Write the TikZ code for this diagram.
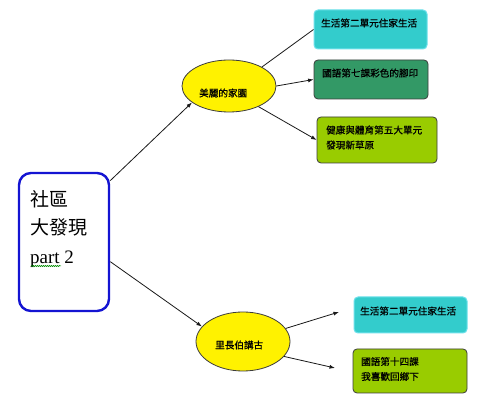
\documentclass[tikz,border=0pt]{standalone}
\usepackage{fontspec}
\setmainfont{Liberation Serif}
\newfontfamily\cjk{Noto Sans CJK TC}
\newfontfamily\cjkb[FakeBold=0.8]{Noto Sans CJK TC}
\usetikzlibrary{arrows.meta,shapes.geometric,decorations.pathmorphing}
\definecolor{cyanbox}{RGB}{51,204,204}
\definecolor{cyanedge}{RGB}{110,225,235}
\definecolor{seagreen}{RGB}{51,153,102}
\definecolor{limebox}{RGB}{153,204,0}
\definecolor{darkedge}{RGB}{60,60,60}
\definecolor{mainblue}{RGB}{20,20,210}
\tikzset{
  topicbox/.style={draw=darkedge, line width=0.8pt, rounded corners=4pt, rectangle, inner sep=0pt},
  cyanstyle/.style={topicbox, fill=cyanbox, draw=cyanedge, line width=1pt},
  greenstyle/.style={topicbox, fill=seagreen},
  limestyle/.style={topicbox, fill=limebox},
  yellowell/.style={ellipse, draw=darkedge, line width=0.8pt, fill=yellow, inner sep=0pt},
  boxtext/.style={anchor=west, inner sep=0pt, align=left, font=\cjkb\fontsize{9.6}{15}\selectfont},
  link/.style={draw=black!90, line width=0.8pt},
  arr/.style={link, -{Latex[length=5.5pt,width=4pt]}}
}
\begin{document}
\begin{tikzpicture}[x=1pt,y=-1pt]
\useasboundingbox[fill=white] (0,0) rectangle (480,406);
% main box
\node[draw=mainblue, line width=2.4pt, rounded corners=12pt, minimum width=90pt, minimum height=138pt, inner sep=0pt] (main) at (64,242) {};
\node[anchor=west, inner sep=0pt, align=left, font=\fontsize{19}{28.5}\selectfont] (maintext) at (30,229) {{\cjk 社區}\\{\cjk 大發現}\\part 2};
\draw[green!55!black, line width=0.5pt, decorate, decoration={snake, amplitude=0.7pt, segment length=2pt}] (31,266) -- (61,266);
% ellipses
\node[yellowell, minimum width=94pt, minimum height=52pt] (ell1) at (229,86) {};
\node[boxtext] (ell1text) at (199,93) {美麗的家園};
\node[yellowell, minimum width=94pt, minimum height=59pt] (ell2) at (243,341.5) {};
\node[boxtext] (ell2text) at (215,345) {里長伯講古};
% boxes
\node[cyanstyle, minimum width=113pt, minimum height=39pt] (A) at (370.5,29.5) {};
\node[boxtext] (Atext) at (321,23) {生活第二單元住家生活};
\node[greenstyle, minimum width=114pt, minimum height=39pt] (B) at (371,79.5) {};
\node[boxtext] (Btext) at (322,73) {國語第七課彩色的腳印};
\node[limestyle, minimum width=120pt, minimum height=46pt] (C) at (377,140) {};
\node[boxtext] (Ctext) at (326,137.5) {健康與體育第五大單元\\發現新草原};
\node[cyanstyle, minimum width=113pt, minimum height=36pt] (D) at (410.5,315) {};
\node[boxtext] (Dtext) at (360,311) {生活第二單元住家生活};
\node[limestyle, minimum width=114pt, minimum height=44pt] (E) at (410,371) {};
\node[boxtext] (Etext) at (361,369) {國語第十四課\\我喜歡回鄉下};
% connectors
\coordinate (dTip) at (339,312);
\coordinate (eTip) at (335,368);
\draw[arr] (main.53) -- (ell1.204);
\draw[arr] (main.-23.5) -- (ell2.160);
\draw[link] (ell1.30) -- (A.west);
\draw[arr] (ell1.east) -- (B.west);
\draw[arr] (ell1.-35) -- (C.west);
\draw[arr] (ell2.17) -- (dTip);
\draw[arr] (ell2.-20) -- (eTip);
\end{tikzpicture}
\end{document}
